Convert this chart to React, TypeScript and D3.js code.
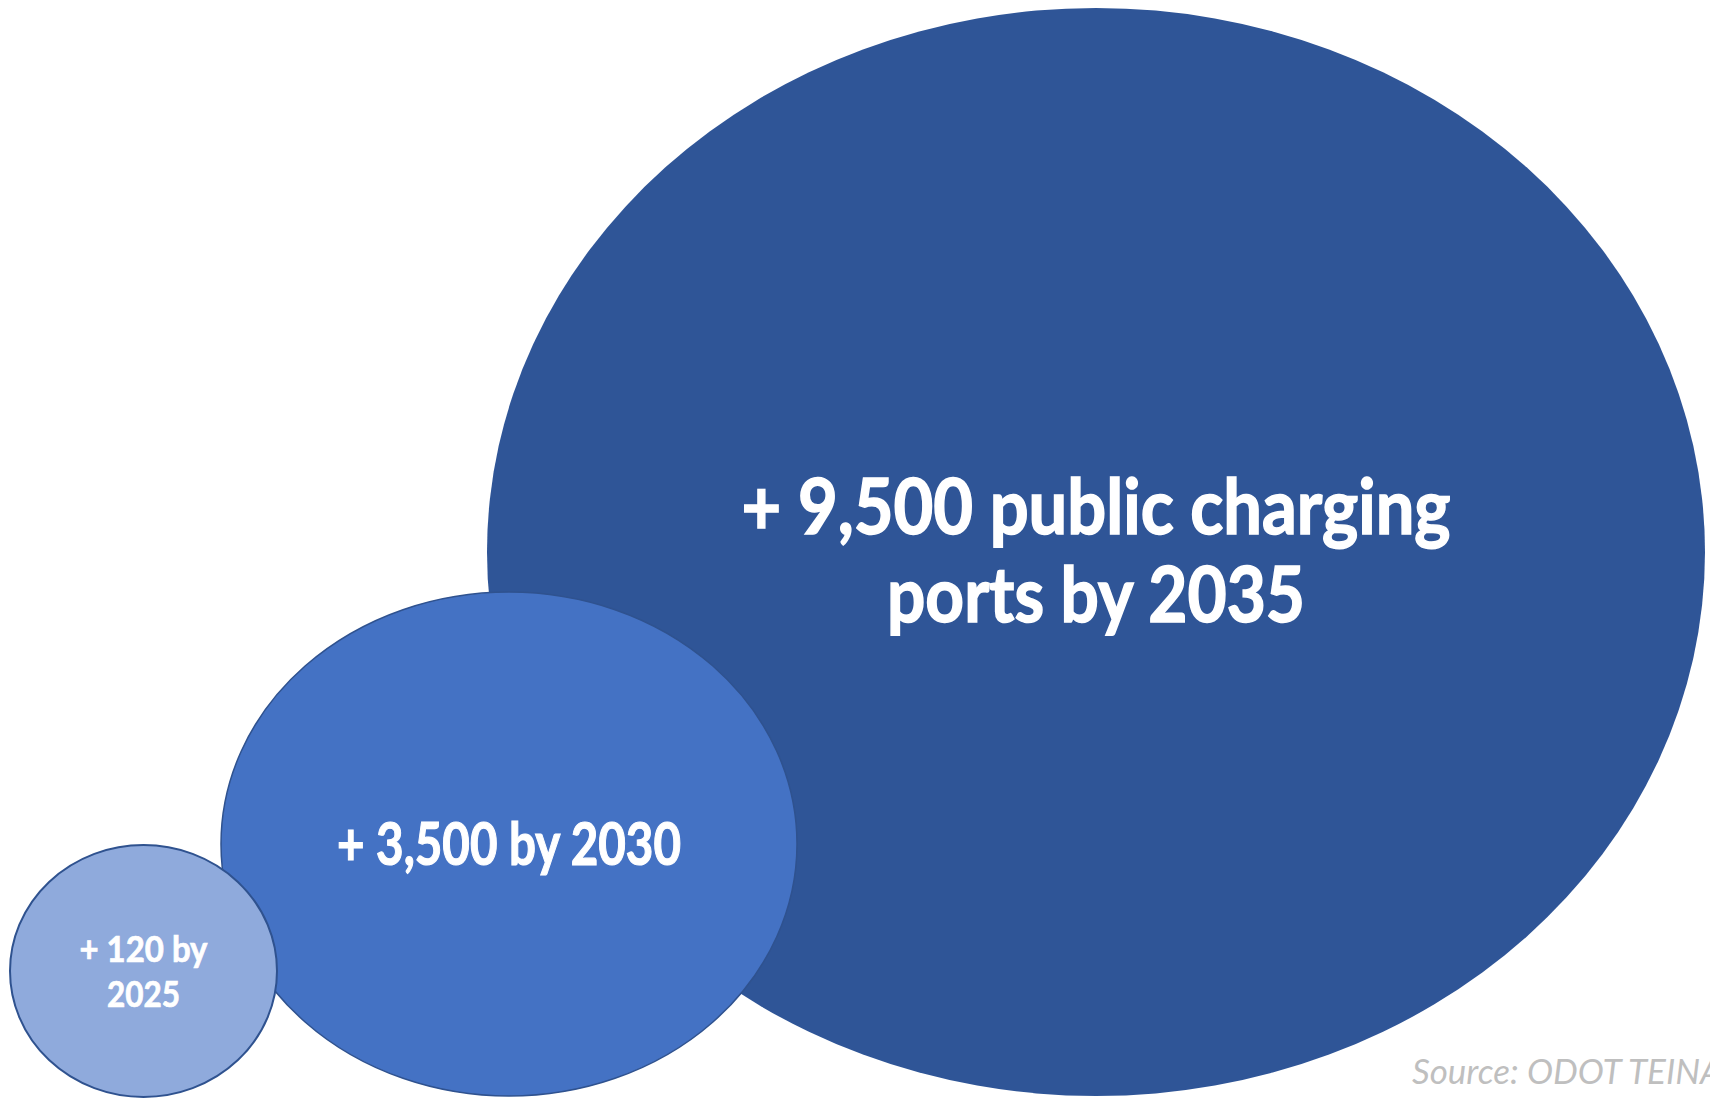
import React from "react";
import * as d3 from "d3";

// ---- data ----
const categories = ["2025", "2030", "2035"];
const portValues = [120, 3500, 9500];
const labelLines = [["+ 120 by", "2025"], ["+ 3,500 by 2030"], ["+ 9,500 public charging", "ports by 2035"]];
const fillColors = ["#8FAADC", "#4472C4", "#2F5597"];
const sourceText = "Source: ODOT TEINA";

// ---- layout (geometry, not data) ----
const W = 1710, H = 1098;
const geom: Record<string, { cx: number; cy: number; rx: number; ry: number; fs: number; lh: number; base: number; widths: number[]; stroke: string; sw: number }> = {
  "2025": { cx: 143.5, cy: 971, rx: 133.5, ry: 126, fs: 37, lh: 45, base: 962, widths: [128, 73], stroke: "#2F528F", sw: 2 },
  "2030": { cx: 509, cy: 844, rx: 288, ry: 252, fs: 59, lh: 68, base: 865, widths: [344], stroke: "#2F528F", sw: 1.5 },
  "2035": { cx: 1096, cy: 552, rx: 609, ry: 544, fs: 76, lh: 88, base: 534, widths: [709, 418], stroke: "none", sw: 0 },
};

export default function App() {
  const color = d3.scaleOrdinal<string, string>().domain(categories).range(fillColors);
  const order = d3.range(categories.length).sort((a, b) => d3.descending(portValues[a], portValues[b]));
  return (
    <svg width={W} height={H} viewBox={`0 0 ${W} ${H}`} style={{ position: "absolute", left: 0, top: 0, background: "#fff" }}>
      {order.map((i) => {
        const c = categories[i];
        const g = geom[c];
        return (
          <g key={c}>
            <ellipse cx={g.cx} cy={g.cy} rx={g.rx} ry={g.ry} fill={color(c)} stroke={g.stroke} strokeWidth={g.sw} />
            {labelLines[i].map((line, j) => (
              <text
                key={j}
                x={g.cx}
                y={g.base + j * g.lh}
                textAnchor="middle"
                fill="#fff"
                stroke="#fff"
                strokeWidth={g.fs * 0.02}
                fontFamily="Lato, 'Open Sans', sans-serif"
                fontWeight={700}
                fontSize={g.fs}
                textLength={g.widths[j]}
                lengthAdjust="spacingAndGlyphs"
              >
                {line}
              </text>
            ))}
          </g>
        );
      })}
      <text x={1412} y={1084} fill="#BFBFBF" fontFamily="Lato, 'Open Sans', sans-serif" fontStyle="italic" fontWeight={400} fontSize={35}>
        {sourceText}
      </text>
    </svg>
  );
}
